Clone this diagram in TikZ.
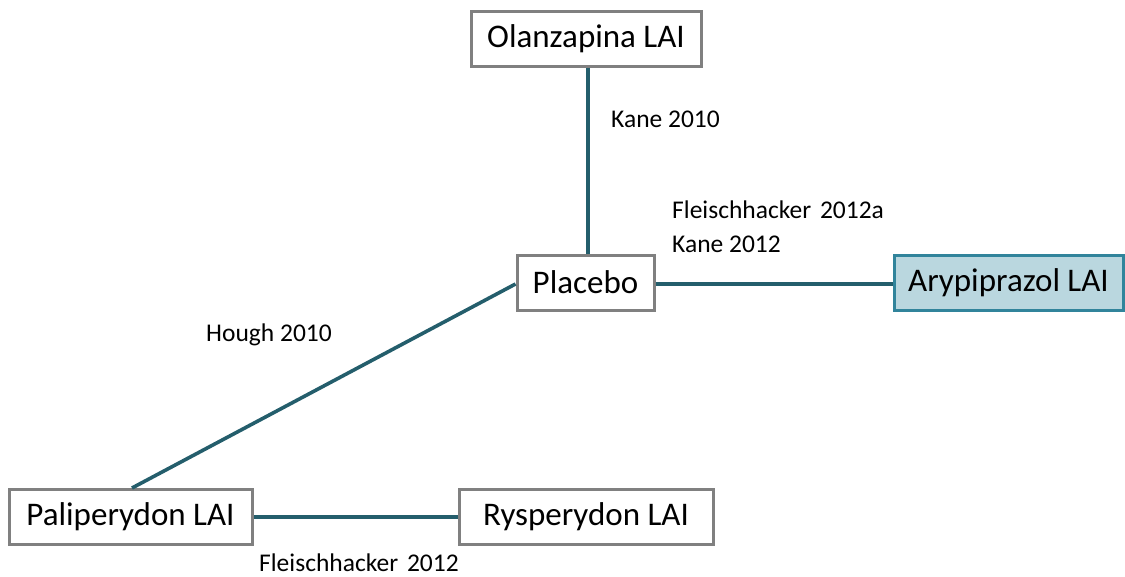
\documentclass[tikz,border=0pt]{standalone}
\usepackage{fontspec}
\setmainfont{Carlito}
\definecolor{edgeteal}{HTML}{245E6C}
\definecolor{boxgray}{HTML}{808080}
\definecolor{aqfill}{HTML}{BAD7DF}
\definecolor{aqborder}{HTML}{31849B}
\begin{document}
\begin{tikzpicture}[x=1pt,y=-1pt,
  drug/.style={draw=boxgray, line width=3pt, fill=white, minimum height=55pt, inner sep=0pt, font=\fontsize{33}{38}\selectfont},
  hilite/.style={drug, draw=aqborder, fill=aqfill},
  link/.style={draw=edgeteal, line width=3.6pt},
  study/.style={anchor=base west, inner sep=0pt, font=\fontsize{25.5}{30}\selectfont}]
\useasboundingbox (0,0) rectangle (1125,576);
\node[drug, minimum width=230pt] (ol) at (586,38.5) {Olanzapina LAI};
\node[drug, minimum width=137pt] (pl) at (585.5,282.5) {Placebo};
\node[hilite, minimum width=229pt] (ar) at (1008.5,282.5) {Arypiprazol LAI};
\node[drug, minimum width=243pt] (pa) at (130.5,517) {Paliperydon LAI};
\node[drug, minimum width=254pt] (ry) at (586,517) {Rysperydon LAI};
\draw[link] (ol.south -| 588,0) -- (pl.north -| 588,0);
\draw[link] (pl.east |- 0,284) -- (ar.west |- 0,284);
\draw[link] (pl.west |- 0,284) -- (pa.north -| 132,0);
\draw[link] (pa.east) -- (ry.west);
\node[study] (k10) at (611,127) {Kane 2010};
\node[study] (f12a) at (672,218) {Fleischhacker\hspace{0.12em} 2012a};
\node[study] (k12) at (672,252) {Kane 2012};
\node[study] (h10) at (206,341) {Hough 2010};
\node[study] (f12) at (259,571) {Fleischhacker\hspace{0.12em} 2012};
\end{tikzpicture}
\end{document}
